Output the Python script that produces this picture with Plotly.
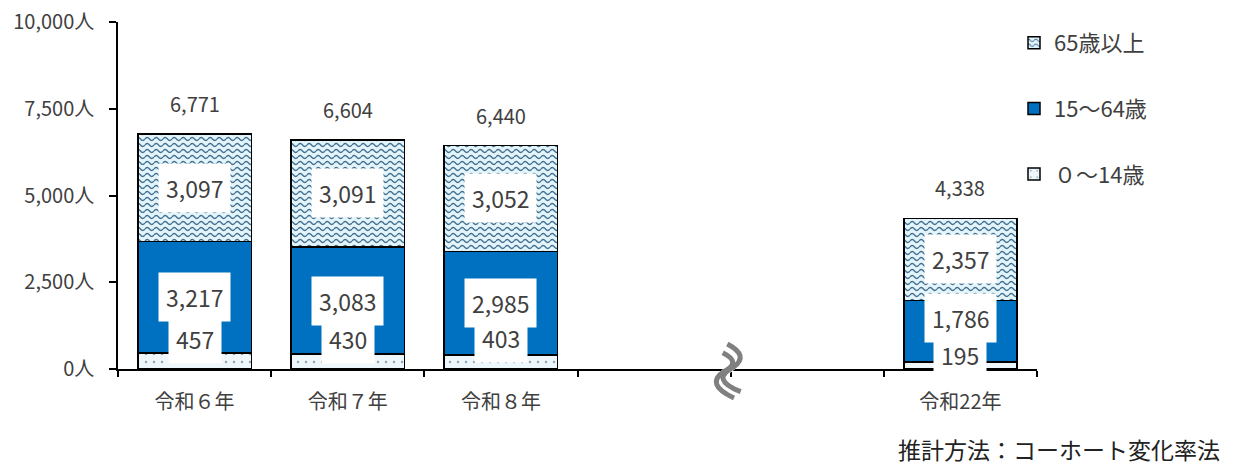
import plotly.graph_objects as go

# Population projection by age group (persons)
categories = ["令和６年", "令和７年", "令和８年", "令和22年"]
axis_slots = ["令和６年", "令和７年", "令和８年", " ", "  ", "令和22年"]
age_0_14 = [457, 430, 403, 195]
age_15_64 = [3217, 3083, 2985, 1786]
age_65_plus = [3097, 3091, 3052, 2357]
totals = [6771, 6604, 6440, 4338]
series_names = ["０～14歳", "15～64歳", "65歳以上"]
y_ticks = [0, 2500, 5000, 7500, 10000]
note_text = "推計方法：コーホート変化率法"

# label nudges (pixels) so small-segment labels do not collide
shift_0_14 = [22, 23, 24, 11]
shift_15_64 = [0, 0, 0, 13]

FONT = "Noto Sans CJK JP"
TEXT = "#404040"
W, H = 1234, 466
M_L, M_R, M_T, M_B = 118, 197, 22, 97
PW, PH = W - M_L - M_R, H - M_T - M_B

fig = go.Figure()

fig.add_trace(go.Bar(
    x=categories, y=age_0_14, name=series_names[0],
    legendgroup="a", legendrank=3,
    marker=dict(color="#eef7fb", line=dict(color="black", width=1.5),
                pattern=dict(shape=".", fgcolor="#8ea3b0", bgcolor="#eef7fb",
                             size=8, solidity=0.07, fillmode="replace")),
    hoverinfo="skip",
))
fig.add_trace(go.Bar(
    x=categories, y=age_15_64, name=series_names[1],
    legendgroup="b", legendrank=2,
    marker=dict(color="#0070C0", line=dict(color="black", width=1.5)),
    hoverinfo="skip",
))
fig.add_trace(go.Bar(
    x=categories, y=age_65_plus, name=series_names[2],
    legendgroup="c", legendrank=1,
    marker=dict(color="#e3f4fb", line=dict(color="black", width=1.5),
                pattern=dict(shape="-", fgcolor="#42708f", bgcolor="#e3f4fb",
                             size=6, solidity=0.2, fillmode="replace")),
    hoverinfo="skip",
))

annotations = []
seg_font = dict(family=FONT, size=23, color=TEXT)
for i, cat in enumerate(categories):
    a, b, c = age_0_14[i], age_15_64[i], age_65_plus[i]
    annotations.append(dict(x=cat, y=a / 2, text=f"{a:,}", showarrow=False,
                            bgcolor="white", borderpad=7, font=seg_font,
                            yshift=shift_0_14[i]))
    annotations.append(dict(x=cat, y=a + b / 2, text=f"{b:,}", showarrow=False,
                            bgcolor="white", borderpad=7, font=seg_font,
                            yshift=shift_15_64[i]))
    annotations.append(dict(x=cat, y=a + b + c / 2, text=f"{c:,}", showarrow=False,
                            bgcolor="white", borderpad=7, font=seg_font))
    annotations.append(dict(x=cat, y=totals[i], text=f"{totals[i]:,}", showarrow=False,
                            yanchor="bottom", yshift=14,
                            font=dict(family=FONT, size=20, color=TEXT)))

annotations.append(dict(xref="paper", yref="paper", x=(1221 - M_L) / PW,
                        y=(H - M_B - 449) / PH, xanchor="right", yanchor="middle",
                        text=note_text, showarrow=False, borderpad=0,
                        font=dict(family=FONT, size=23, color="#222222")))


def px(x, y):
    """pixel position -> paper coordinates"""
    return f"{(x - M_L) / PW:.5f},{(H - M_B - y) / PH:.5f}"


def s_curve(p0, c1, m, c2, p2):
    return f"M{px(*p0)} Q{px(*c1)} {px(*m)} Q{px(*c2)} {px(*p2)}"


# axis break mark
shapes = [
    dict(type="path", xref="paper", yref="paper", layer="above",
         path=s_curve((725, 348.3), (745.6, 358.8), (729.2, 369.2), (706.8, 381.8), (737.4, 394.8)),
         line=dict(color="white", width=7)),
    dict(type="path", xref="paper", yref="paper", layer="above",
         path=s_curve((722.7, 352.7), (741.5, 362), (725, 371), (703.9, 384), (734, 398)),
         line=dict(color="#808080", width=5)),
    dict(type="path", xref="paper", yref="paper", layer="above",
         path=s_curve((727.3, 344), (749.7, 355.7), (733.3, 367.3), (709.6, 379.5), (740.7, 391.7)),
         line=dict(color="#808080", width=5)),
]

fig.update_layout(
    width=W, height=H,
    margin=dict(l=M_L, r=M_R, t=M_T, b=M_B, autoexpand=False),
    barmode="stack", bargap=0.26,
    paper_bgcolor="white", plot_bgcolor="white",
    font=dict(family=FONT, color=TEXT),
    annotations=annotations, shapes=shapes,
    showlegend=True,
    legend=dict(x=(1014 - M_L) / PW, y=1.0, xanchor="left", yanchor="top",
                traceorder="grouped", tracegroupgap=34,
                font=dict(family=FONT, size=22, color=TEXT),
                bgcolor="rgba(0,0,0,0)"),
    xaxis=dict(type="category", categoryorder="array", categoryarray=axis_slots,
               showline=True, linecolor="black", linewidth=1.5,
               ticks="outside", tickson="boundaries", ticklen=6,
               tickcolor="black", tickwidth=1.5,
               tickfont=dict(family=FONT, size=20, color=TEXT),
               ticklabelstandoff=14, showgrid=False, fixedrange=True),
    yaxis=dict(range=[0, 10000], tickvals=y_ticks,
               ticktext=[f"{v:,}人" for v in y_ticks],
               showline=True, linecolor="black", linewidth=1.5,
               ticks="outside", ticklen=7, tickcolor="black", tickwidth=1.5,
               tickfont=dict(family=FONT, size=20, color=TEXT),
               ticklabelstandoff=11, showgrid=False, zeroline=False,
               fixedrange=True),
)

# replace the plain stripe fill with a wavy line texture
wave_script = """
document.querySelectorAll('pattern').forEach(function (p) {
  var line = p.querySelector('path');
  if (!line) { return; }
  var w = 9, h = 6;
  p.setAttribute('width', w);
  p.setAttribute('height', h);
  var bg = p.querySelector('rect');
  if (bg) { bg.setAttribute('width', w); bg.setAttribute('height', h); }
  line.setAttribute('d', 'M0,3 Q2.25,0 4.5,3 Q6.75,6 9,3');
  line.setAttribute('fill', 'none');
  line.setAttribute('stroke-width', '1.3');
});
"""

fig.write_html("out.html", config={"displayModeBar": False}, post_script=wave_script)
